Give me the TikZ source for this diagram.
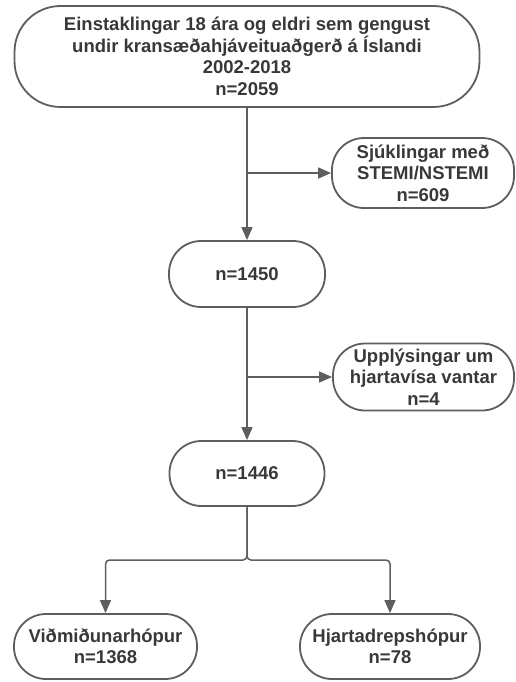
\documentclass[tikz,border=0pt]{standalone}
\usepackage{fontspec}
\setmainfont{Liberation Sans}
\usetikzlibrary{arrows.meta,positioning}
\definecolor{linegray}{HTML}{5E5E5E}
\definecolor{textgray}{HTML}{383838}

\begin{document}
\begin{tikzpicture}[x=1pt, y=-1pt, >={Triangle[length=13pt,width=11pt]},
  box/.style={draw=linegray, line width=1.8pt, rounded corners=32pt, align=center, inner sep=0pt,
    text=textgray, font=\fontsize{18.5}{21.5}\selectfont\bfseries},
  link/.style={draw=linegray, line width=1.5pt}]
\useasboundingbox (0,0) rectangle (516,682);
% main column
\node[box, rounded corners=46pt, minimum width=465pt, minimum height=101pt] (all) at (247,56.5)
  {Einstaklingar 18 ára og eldri sem gengust\\ undir kransæðahjáveituaðgerð á Íslandi\\ 2002-2018\\ n=2059};
\node[box, minimum width=156pt, minimum height=66pt] (n1450) at (247,274) {n=1450};
\node[box, minimum width=155pt, minimum height=65pt] (n1446) at (247,473.5) {n=1446};
% exclusions
\node[box, minimum width=182pt, minimum height=70pt] (stemi) at (423,173)
  {Sjúklingar með\\ STEMI/NSTEMI\\ n=609};
\node[box, minimum width=181pt, minimum height=67pt] (missing) at (423.5,377)
  {Upplýsingar um\\ hjartavísa vantar\\ n=4};
% groups
\node[box, minimum width=183pt, minimum height=65pt] (ctrl) at (105.5,646.5) {Viðmiðunarhópur\\ n=1368};
\node[box, minimum width=180pt, minimum height=65pt] (mi) at (390,646.5) {Hjartadrepshópur\\ n=78};
% connectors
\coordinate (b1) at (247,173);
\coordinate (b2) at (247,377);
\coordinate (split) at (247,560);
\draw[link,->] (all.south) -- (n1450.north);
\draw[link,->] (b1) -- (stemi.west);
\draw[link,->] (n1450.south) -- (n1446.north);
\draw[link,->] (b2) -- (missing.west);
\draw[link,->, rounded corners=4pt] (n1446.south) -- (split) -| (ctrl.north);
\draw[link,->, rounded corners=4pt] (n1446.south) -- (split) -| (mi.north);
\end{tikzpicture}
\end{document}
